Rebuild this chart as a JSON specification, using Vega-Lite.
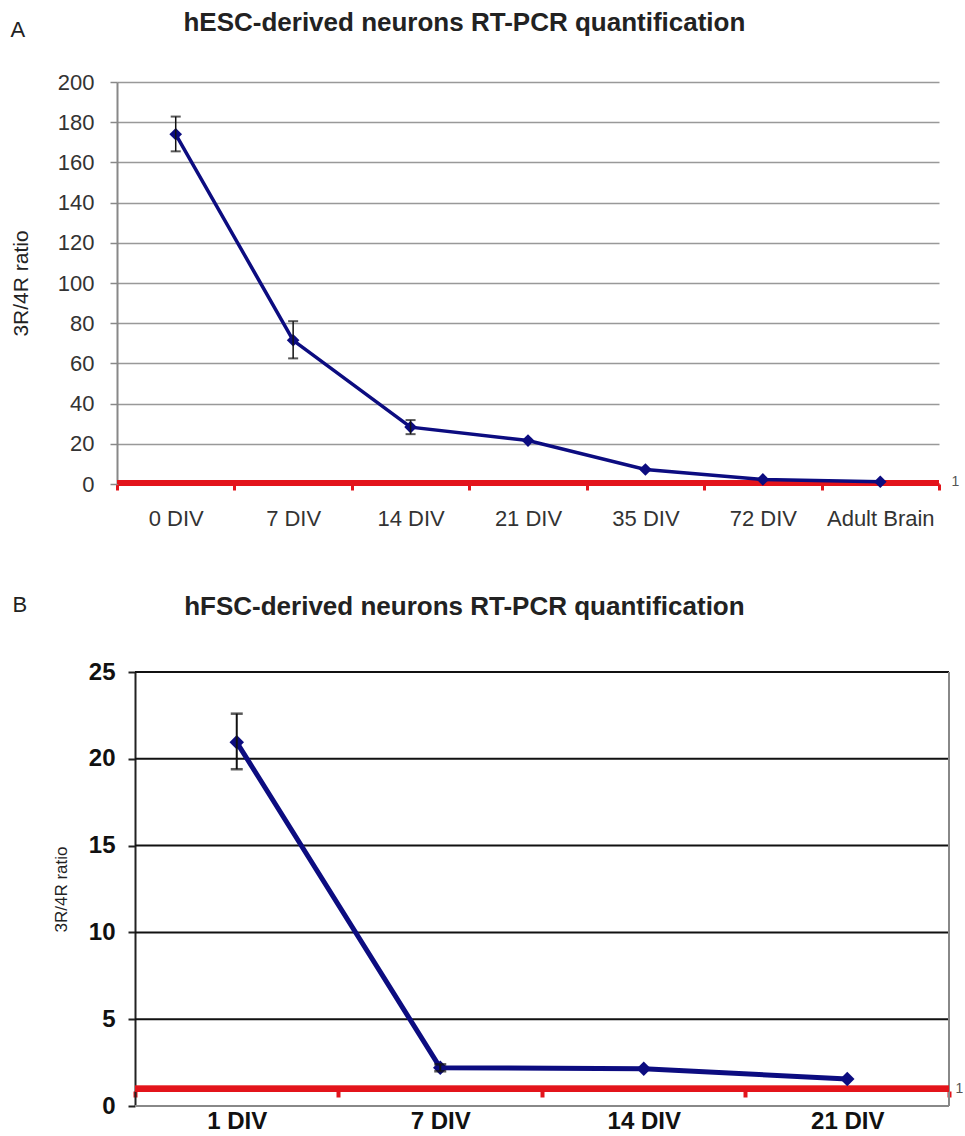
{
  "$schema": "https://vega.github.io/schema/vega-lite/v6.json",
  "background": "white",
  "padding": {"left": 10, "top": 10, "right": 0, "bottom": 0},
  "config": {"font": "Liberation Sans", "view": {"stroke": null}, "concat": {"spacing": 64}},
  "datasets": {
    "a": [
      {"stage": "0 DIV", "ratio": 174, "lo": 165.5, "hi": 182.8},
      {"stage": "7 DIV", "ratio": 71.5, "lo": 62.5, "hi": 81},
      {"stage": "14 DIV", "ratio": 28.3, "lo": 24.8, "hi": 31.8},
      {"stage": "21 DIV", "ratio": 21.6},
      {"stage": "35 DIV", "ratio": 7.2},
      {"stage": "72 DIV", "ratio": 2.3},
      {"stage": "Adult Brain", "ratio": 1.1}
    ],
    "b": [
      {"stage": "1 DIV", "ratio": 20.95, "lo": 19.4, "hi": 22.6},
      {"stage": "7 DIV", "ratio": 2.2, "lo": 2.0, "hi": 2.4},
      {"stage": "14 DIV", "ratio": 2.15},
      {"stage": "21 DIV", "ratio": 1.55}
    ],
    "bgrid": [{"v": 5}, {"v": 10}, {"v": 15}, {"v": 20}, {"v": 25}]
  },
  "vconcat": [
    {
      "width": 822,
      "height": 402,
      "data": {"name": "a"},
      "title": {"text": "hESC-derived neurons RT-PCR quantification", "fontSize": 26, "fontWeight": "bold", "color": "#222", "anchor": "middle", "frame": "bounds", "dx": -20, "offset": -18},
      "resolve": {"axis": {"x": "independent", "y": "independent"}},
      "layer": [
        {
          "mark": {"type": "rule", "color": "#e3141b", "strokeWidth": 4},
          "encoding": {"y": {"datum": 1, "type": "quantitative",
            "axis": {"orient": "right", "values": [1], "grid": false, "ticks": false, "domain": false, "title": null, "labelFontSize": 14, "labelColor": "#555", "labelPadding": 12}}}
        },
        {
          "mark": {"type": "line", "color": "#0c0c80", "strokeWidth": 3.5},
          "encoding": {
            "x": {"field": "stage", "type": "nominal", "sort": null, "scale": {"paddingInner": 0, "paddingOuter": 0},
              "axis": {"orient": "bottom", "title": null, "labelAngle": 0, "labelFontSize": 22, "labelColor": "#333", "labelPadding": 18, "tickBand": "extent", "tickColor": "#e3141b", "tickWidth": 3, "tickSize": 6, "domainColor": "#e3141b", "domainWidth": 3}},
            "y": {"field": "ratio", "type": "quantitative", "scale": {"domain": [0, 200], "nice": false},
              "axis": {"orient": "left", "grid": true, "title": "3R/4R ratio", "titleFontSize": 21, "titleFontWeight": "normal", "titleColor": "#222", "titlePadding": 26, "values": [0, 20, 40, 60, 80, 100, 120, 140, 160, 180, 200], "labelFontSize": 22, "labelColor": "#333", "labelPadding": 16, "tickSize": 7, "tickColor": "#888", "tickWidth": 1.5, "domainColor": "#888", "domainWidth": 2, "gridColor": "#999", "gridWidth": 1.5}}
          }
        },
        {
          "mark": {"type": "point", "shape": "diamond", "filled": true, "color": "#0c0c80", "size": 160, "opacity": 1},
          "encoding": {
            "x": {"field": "stage", "type": "nominal", "sort": null,
              "axis": {"orient": "top", "labels": false, "ticks": false, "domain": false, "grid": false, "title": "A", "titleFontSize": 22, "titleFontWeight": "normal", "titleColor": "#222", "titleAnchor": "start", "titleAlign": "left", "titleBaseline": "middle", "titleX": -107, "titleY": -53}},
            "y": {"field": "ratio", "type": "quantitative", "axis": null}
          }
        },
        {
          "transform": [{"filter": "isValid(datum.lo)"}],
          "mark": {"type": "rule", "color": "#111", "strokeWidth": 1.5},
          "encoding": {
            "x": {"field": "stage", "type": "nominal", "sort": null, "axis": null},
            "y": {"field": "lo", "type": "quantitative", "axis": null},
            "y2": {"field": "hi"}
          }
        },
        {
          "transform": [{"filter": "isValid(datum.lo)"}],
          "mark": {"type": "tick", "color": "#111", "thickness": 2, "size": 10},
          "encoding": {
            "x": {"field": "stage", "type": "nominal", "sort": null, "axis": null},
            "y": {"field": "lo", "type": "quantitative", "axis": null}
          }
        },
        {
          "transform": [{"filter": "isValid(datum.lo)"}],
          "mark": {"type": "tick", "color": "#111", "thickness": 2, "size": 10},
          "encoding": {
            "x": {"field": "stage", "type": "nominal", "sort": null, "axis": null},
            "y": {"field": "hi", "type": "quantitative", "axis": null}
          }
        }
      ]
    },
    {
      "width": 832,
      "height": 434,
      "title": {"text": "hFSC-derived neurons RT-PCR quantification", "fontSize": 26, "fontWeight": "bold", "color": "#222", "anchor": "middle", "frame": "bounds", "dx": -23, "offset": -27},
      "resolve": {"axis": {"x": "independent", "y": "independent"}},
      "layer": [
        {
          "data": {"name": "bgrid"},
          "mark": {"type": "rule", "color": "#111", "strokeWidth": 2},
          "encoding": {
            "x": {"datum": "1 DIV", "type": "nominal", "bandPosition": 0, "axis": null},
            "x2": {"datum": "21 DIV", "bandPosition": 1},
            "y": {"field": "v", "type": "quantitative", "axis": null}
          }
        },
        {
          "data": {"name": "b"},
          "mark": {"type": "rule", "color": "#888", "strokeWidth": 2},
          "encoding": {
            "x": {"datum": "1 DIV", "type": "nominal", "bandPosition": 0, "axis": null},
            "x2": {"datum": "21 DIV", "bandPosition": 1},
            "y": {"datum": 0, "type": "quantitative", "axis": null}
          }
        },
        {
          "data": {"name": "b"},
          "mark": {"type": "rule", "color": "#888", "strokeWidth": 2},
          "encoding": {
            "x": {"datum": "21 DIV", "type": "nominal", "bandPosition": 1, "axis": null},
            "y": {"datum": 0, "type": "quantitative", "axis": null},
            "y2": {"datum": 25}
          }
        },
        {
          "data": {"name": "b"},
          "mark": {"type": "rule", "color": "#e3141b", "strokeWidth": 6},
          "encoding": {
            "x": {"datum": "1 DIV", "type": "nominal", "bandPosition": 0, "axis": null},
            "x2": {"datum": "21 DIV", "bandPosition": 1},
            "y": {"datum": 1, "type": "quantitative",
              "axis": {"orient": "right", "values": [1], "grid": false, "ticks": false, "domain": false, "title": null, "labelFontSize": 14, "labelColor": "#555", "labelPadding": 6}}
          }
        },
        {
          "data": {"name": "b"},
          "mark": {"type": "line", "color": "#0c0c80", "strokeWidth": 5},
          "encoding": {
            "x": {"field": "stage", "type": "nominal", "sort": null,
              "scale": {"domain": ["1 DIV", "7 DIV", "14 DIV", "21 DIV"], "paddingInner": 0, "paddingOuter": 0.044226, "align": 1},
              "axis": {"orient": "bottom", "title": null, "labelAngle": 0, "labelFontSize": 24, "labelFontWeight": "bold", "labelColor": "#111", "offset": -15, "labelPadding": 12, "tickBand": "extent", "tickColor": "#e3141b", "tickWidth": 4, "tickSize": 6, "domain": false}},
            "y": {"field": "ratio", "type": "quantitative", "scale": {"domain": [0, 25], "nice": false},
              "axis": {"orient": "left", "grid": false, "offset": -18, "title": "3R/4R ratio", "titleFontSize": 17, "titleFontWeight": "normal", "titleColor": "#222", "titlePadding": 18, "values": [0, 5, 10, 15, 20, 25], "labelFontSize": 24, "labelFontWeight": "bold", "labelColor": "#111", "labelPadding": 13, "tickSize": 7, "tickColor": "#222", "tickWidth": 2, "domainColor": "#222", "domainWidth": 2}}
          }
        },
        {
          "data": {"name": "b"},
          "mark": {"type": "point", "shape": "diamond", "filled": true, "color": "#0c0c80", "size": 210, "opacity": 1},
          "encoding": {
            "x": {"field": "stage", "type": "nominal", "sort": null,
              "axis": {"orient": "top", "labels": false, "ticks": false, "domain": false, "grid": false, "title": "B", "titleFontSize": 22, "titleFontWeight": "normal", "titleColor": "#222", "titleAnchor": "start", "titleAlign": "left", "titleBaseline": "middle", "titleX": -105, "titleY": -68}},
            "y": {"field": "ratio", "type": "quantitative", "axis": null}
          }
        },
        {
          "data": {"name": "b"},
          "transform": [{"filter": "isValid(datum.lo)"}],
          "mark": {"type": "rule", "color": "#111", "strokeWidth": 2},
          "encoding": {
            "x": {"field": "stage", "type": "nominal", "sort": null, "axis": null},
            "y": {"field": "lo", "type": "quantitative", "axis": null},
            "y2": {"field": "hi"}
          }
        },
        {
          "data": {"name": "b"},
          "transform": [{"filter": "isValid(datum.lo)"}],
          "mark": {"type": "tick", "color": "#111", "thickness": 2.5, "size": 12},
          "encoding": {
            "x": {"field": "stage", "type": "nominal", "sort": null, "axis": null},
            "y": {"field": "lo", "type": "quantitative", "axis": null}
          }
        },
        {
          "data": {"name": "b"},
          "transform": [{"filter": "isValid(datum.lo)"}],
          "mark": {"type": "tick", "color": "#111", "thickness": 2.5, "size": 12},
          "encoding": {
            "x": {"field": "stage", "type": "nominal", "sort": null, "axis": null},
            "y": {"field": "hi", "type": "quantitative", "axis": null}
          }
        }
      ]
    }
  ]
}
